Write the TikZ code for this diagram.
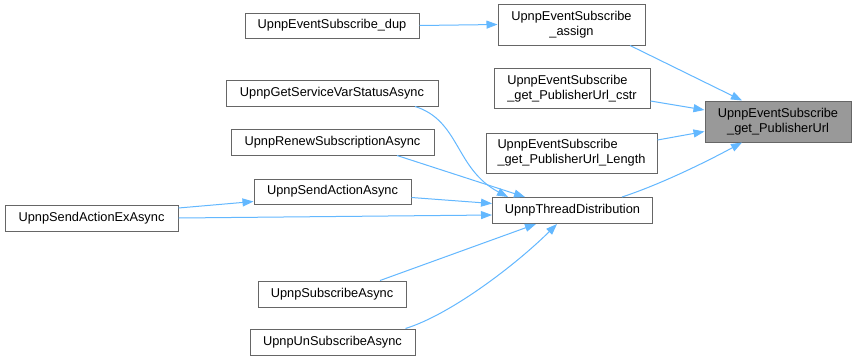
\documentclass[tikz,border=0pt]{standalone}
\usepackage{fontspec}
\setmainfont{Liberation Sans}
\usetikzlibrary{arrows.meta,calc}
\definecolor{edgeblue}{HTML}{63B8FF}
\definecolor{boxline}{HTML}{666666}
\definecolor{focusfill}{HTML}{999999}
\tikzset{
  fnbox/.style={draw=boxline, fill=white, line width=0.75pt, inner sep=0pt,
    font=\fontsize{9.6}{11.25}\selectfont, align=center},
  focusbox/.style={fnbox, fill=focusfill},
  callarrow/.style={draw=edgeblue, line width=0.75pt,
    -{Triangle[length=8.25pt,width=6pt]}, color=edgeblue}
}
\begin{document}
\begin{tikzpicture}[x=0.75pt,y=-0.75pt]
\useasboundingbox (0,0) rectangle (856,361);
\fill[white] (0,0) rectangle (856,361);

% functions
\node[fnbox, minimum width=130.5pt, minimum height=18.75pt] (dup) at (332,25.5) {UpnpEventSubscribe\_dup};
\node[fnbox, minimum width=110.25pt, minimum height=30.75pt] (assign) at (571.5,24.5) {UpnpEventSubscribe\\\_assign};
\node[fnbox, align=left, minimum width=117pt, minimum height=30pt] (cstr) at (572,88.5) {UpnpEventSubscribe\\\_get\_PublisherUrl\_cstr};
\node[fnbox, align=left, minimum width=128.25pt, minimum height=30pt] (len) at (571.5,153) {UpnpEventSubscribe\\\_get\_PublisherUrl\_Length};
\node[focusbox, minimum width=109.5pt, minimum height=30.75pt] (target) at (778,121.5) {UpnpEventSubscribe\\\_get\_PublisherUrl};
\node[fnbox, minimum width=159pt, minimum height=19.5pt] (gs) at (332,93) {UpnpGetServiceVarStatusAsync};
\node[fnbox, minimum width=152.25pt, minimum height=19.5pt] (renew) at (332.5,142) {UpnpRenewSubscriptionAsync};
\node[fnbox, minimum width=117.75pt, minimum height=18.75pt] (saa) at (332.5,191.5) {UpnpSendActionAsync};
\node[fnbox, minimum width=129.75pt, minimum height=19.5pt] (saex) at (91.5,218) {UpnpSendActionExAsync};
\node[fnbox, minimum width=120pt, minimum height=19.5pt] (td) at (572.5,210.5) {UpnpThreadDistribution};
\node[fnbox, minimum width=111pt, minimum height=19.5pt] (sub) at (332,294) {UpnpSubscribeAsync};
\node[fnbox, minimum width=123.75pt, minimum height=19.5pt] (unsub) at (332.5,342) {UpnpUnSubscribeAsync};

% calls
\draw[callarrow] (dup.east) -- (assign.west);
\draw[callarrow] ($(assign.south)+(58.5,0)$) -- ($(target.north)+(-36,0)$);
\draw[callarrow] ($(cstr.east)+(0,12.5)$) -- ($(target.west)+(0,-11.5)$);
\draw[callarrow] ($(len.east)+(0,-13)$) -- ($(target.west)+(0,10)$);
\draw[callarrow] ($(td.north)+(49.5,0)$) .. controls +(38,-12.5) and +(-37,20) .. ($(target.south)+(-36,0)$);
\draw[callarrow] ($(gs.south)+(83,0)$) .. controls +(45,14) and +(-53,-28) .. ($(td.north)+(-64.5,0)$);
\draw[callarrow] ($(renew.south)+(64.5,0)$) -- ($(td.north)+(-47.5,0)$);
\draw[callarrow] ($(saa.east)+(0,6)$) -- ($(td.west)+(0,-7)$);
\draw[callarrow] (saex.east) -- ($(td.west)+(0,4.5)$);
\draw[callarrow] ($(saex.east)+(0,-10)$) -- ($(saa.west)+(0,10)$);
\draw[callarrow] ($(sub.north)+(48,0)$) -- ($(td.south)+(-36.5,0)$);
\draw[callarrow] ($(unsub.north)+(73,0)$) .. controls +(45,-14) and +(-42,41.5) .. ($(td.south)+(-15.5,0)$);
\end{tikzpicture}
\end{document}
